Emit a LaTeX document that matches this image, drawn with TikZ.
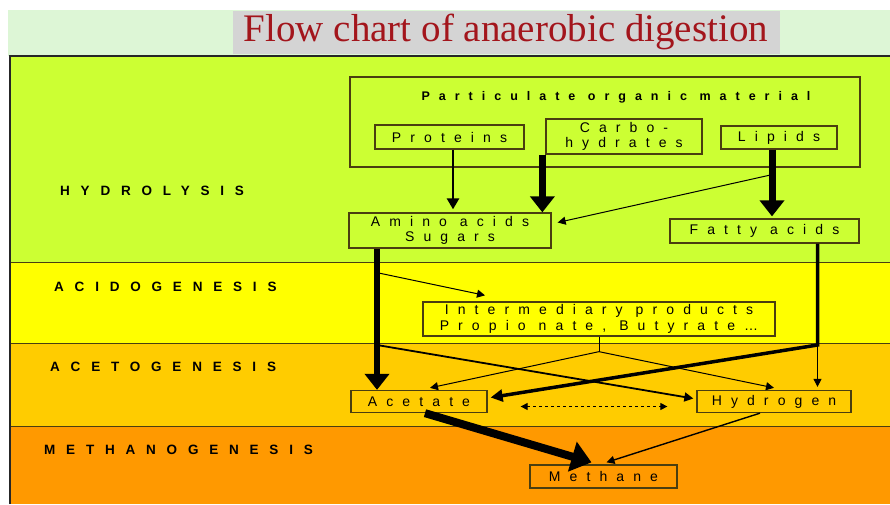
\documentclass[tikz,border=0pt]{standalone}
\usepackage{fontspec}
\setmainfont{Liberation Serif}
\newfontfamily\boxfont[LetterSpace=65]{Liberation Sans}
\newfontfamily\phasefont[LetterSpace=80]{Liberation Sans}
\newfontfamily\headfont[LetterSpace=72]{Liberation Sans}
\usetikzlibrary{arrows.meta, positioning}

\definecolor{stripcol}{HTML}{DDF6D6}
\definecolor{titlebox}{HTML}{D4D4D4}
\definecolor{titlered}{HTML}{A3151C}
\definecolor{hydrocol}{HTML}{CCFF33}
\definecolor{acidocol}{HTML}{FFFF00}
\definecolor{acetocol}{HTML}{FFCC00}
\definecolor{methacol}{HTML}{FF9900}
\definecolor{boxline}{HTML}{4A3E10}

\tikzstyle{box} = [rectangle, draw=boxline, line width=1.3pt, inner sep=0pt, align=center, font=\boxfont\fontsize{14}{15.5}\selectfont]
\tikzstyle{phase} = [anchor=west, inner sep=0pt, font=\phasefont\bfseries\fontsize{13.5}{15}\selectfont]
\tikzstyle{thinarrow} = [-{Triangle[length=8pt,width=8pt]}, line width=1pt]
\tikzstyle{midarrow} = [-{Triangle[length=11pt,width=12pt]}, line width=2.6pt]
\tikzstyle{bigarrow} = [-{Triangle[length=16pt,width=24pt]}, line width=7pt]

\begin{document}
\begin{tikzpicture}[x=1pt, y=-1pt]
    \useasboundingbox (0,0) rectangle (890,504);

    % Bands
    \fill[white] (0,0) rectangle (890,504);
    \fill[stripcol] (8,10) rectangle (890,56);
    \fill[hydrocol] (10,56) rectangle (890,262);
    \fill[acidocol] (10,262) rectangle (890,343);
    \fill[acetocol] (10,343) rectangle (890,426);
    \fill[methacol] (10,426) rectangle (890,504);
    \draw[boxline, line width=1pt] (10,262) -- (890,262) (10,343) -- (890,343) (10,426) -- (890,426);
    \draw[black!85, line width=2pt] (10,504) -- (10,56) -- (890,56);

    % Title
    \node (title) [fill=titlebox, minimum width=547pt, minimum height=43pt, inner sep=0pt,
        text=titlered, font=\fontsize{39}{41}\selectfont] at (506,32) {Flow chart of anaerobic digestion};

    % Phases
    \node (hydrolysis) [phase] at (60,191) {HYDROLYSIS};
    \node (acidogenesis) [phase] at (54,287) {ACIDOGENESIS};
    \node (acetogenesis) [phase] at (50,367) {ACETOGENESIS};
    \node (methanogenesis) [phase] at (44,450) {METHANOGENESIS};

    % Hydrolysis
    \node (organic) [box, minimum width=510pt, minimum height=90pt] at (605,122) {};
    \node (organiclabel) [inner sep=0pt, font=\headfont\bfseries\fontsize{12.5}{14}\selectfont] at (616,97) {Particulate organic material};
    \node (proteins) [box, minimum width=149pt, minimum height=24pt] at (449.5,137) {Proteins};
    \node (carbo) [box, minimum width=156pt, minimum height=35pt] at (624,136.5) {Carbo-\\hydrates};
    \node (lipids) [box, minimum width=116pt, minimum height=23pt] at (779,137.5) {Lipids};
    \node (amino) [box, minimum width=202pt, minimum height=35pt] at (450,230.5) {Amino acids\\Sugars};
    \node (fatty) [box, minimum width=189pt, minimum height=24pt] at (764.5,231) {Fatty acids};

    % Acidogenesis
    \node (inter) [box, minimum width=352pt, minimum height=34pt] at (599,319) {Intermediary products\\Propio nate, Butyrate…};

    % Acetogenesis
    \node (acetate) [box, minimum width=136pt, minimum height=22pt] at (419,401.5) {Acetate};
    \node (hydrogen) [box, minimum width=154pt, minimum height=22pt] at (774,401.5) {Hydrogen};

    % Methanogenesis
    \node (methane) [box, minimum width=147pt, minimum height=23pt] at (603.5,476.5) {Methane};

    % Helper points
    \coordinate (lipsplit) at ([xshift=-7pt, yshift=-25pt]lipids.south);
    \coordinate (aminoout) at ([xshift=-73pt]amino.south);
    \coordinate (fattyout) at ([xshift=53pt]fatty.south);
    \coordinate (acidsplit) at ([yshift=-24pt]aminoout);
    \coordinate (acetoline) at (10,345);
    \coordinate (interfork) at ([yshift=-15pt]inter.south);

    % Arrows
    \draw [midarrow] ([xshift=3.5pt]proteins.south) -- ([xshift=3.5pt, yshift=3pt]proteins.south |- amino.north);
    \draw [bigarrow] ([xshift=-3pt]carbo.south west) -- ([xshift=-3pt]carbo.south west |- amino.north);
    \draw [bigarrow] ([xshift=-7pt]lipids.south) -- ([xshift=-7pt, yshift=2pt]lipids.south |- fatty.north);
    \draw [thinarrow] (lipsplit) -- ([xshift=6pt, yshift=8pt]amino.east);
    \draw [bigarrow, line width=5.5pt] (aminoout) -- (aminoout |- acetate.north);
    \draw [thinarrow] (acidsplit) -- ([xshift=-114pt, yshift=6pt]inter.north);
    \draw [midarrow, line width=1.8pt, -{Triangle[length=9pt,width=9pt]}] (aminoout |- acetoline) -- ([xshift=-3pt, yshift=3pt]hydrogen.west);
    \draw [midarrow, line width=3.5pt, -{Triangle[length=12pt,width=12pt]}] (fattyout) -- (fattyout |- acetoline) -- ([xshift=3pt, yshift=4pt]acetate.east);
    \draw [thinarrow] (fattyout |- acetoline) -- ([yshift=3pt]fattyout |- hydrogen.north);
    \draw [line width=1pt] (inter.south) -- (interfork);
    \draw [thinarrow] (interfork) -- ([xshift=11pt, yshift=2pt]acetate.north);
    \draw [thinarrow] (interfork) -- ([yshift=2pt]hydrogen.north);
    \draw [line width=1.2pt, dashed, {Triangle[length=7pt,width=7pt]}-{Triangle[length=7pt,width=7pt]}] ([xshift=33pt, yshift=-5pt]acetate.east) -- ([xshift=-29pt, yshift=-5pt]hydrogen.west);
    \draw [bigarrow, line width=8pt, -{Triangle[length=20pt,width=30pt]}] ([xshift=6pt]acetate.south) -- ([xshift=-12pt, yshift=2pt]methane.north);
    \draw [thinarrow, line width=1.4pt] ([xshift=-14pt]hydrogen.south) -- ([xshift=3pt, yshift=2pt]methane.north);
\end{tikzpicture}
\end{document}
